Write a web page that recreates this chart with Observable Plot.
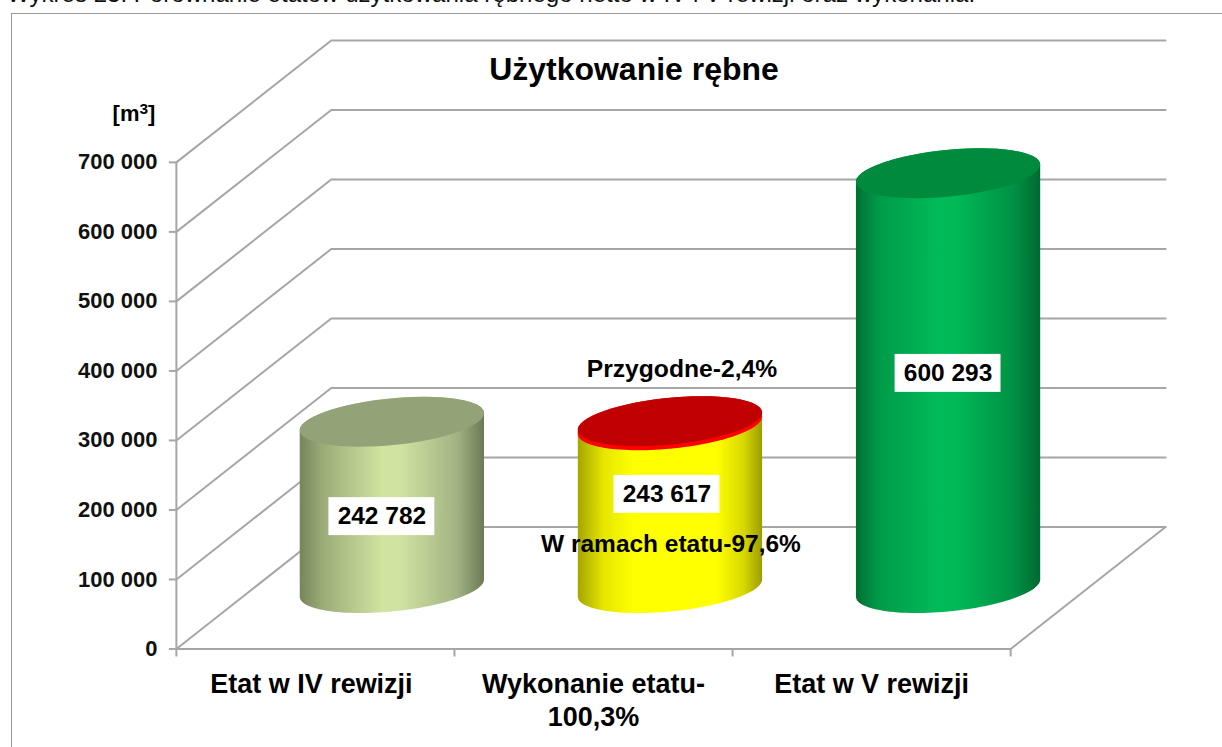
<!DOCTYPE html>
<html lang="pl">
<head>
<meta charset="utf-8">
<script src="https://cdn.jsdelivr.net/npm/d3@7"></script>
<script src="https://cdn.jsdelivr.net/npm/@observablehq/plot@0.6"></script>
<style>
html,body{margin:0;padding:0;background:#fff;overflow:hidden;width:1222px;height:747px;position:relative}
#cap{position:absolute;left:7px;top:-20px;font:24.07px/28px "Liberation Sans",Arial,sans-serif;color:#111;white-space:nowrap}
#chart{position:absolute;left:11px;top:13px;width:1211px;height:734px;box-sizing:border-box;border-top:1.5px solid #999;border-left:1.5px solid #999}
#chart svg{position:absolute;left:-1.5px;top:-1.5px;overflow:visible}
</style>
</head>
<body>
<div id="cap">Wykres 23. Porównanie etatów użytkowania rębnego netto w IV i V rewizji oraz wykonania.</div>
<div id="chart"></div>
<script>
const chartTitle = "Użytkowanie rębne";
const unitLabel = "[m3]";
const categories = ["Etat w IV rewizji", "Wykonanie etatu-\n100,3%", "Etat w V rewizji"];
const totals = [242782, 243617, 600293];
const totalLabels = ["242 782", "243 617", "600 293"];
const yTicks = [0, 100000, 200000, 300000, 400000, 500000, 600000, 700000];
const xTicks = [0, 1, 2, 3];
const segCategory = [0, 1, 1, 2];
const segBottom = [0, 0, 237770, 0];
const segTop = [242782, 237770, 243617, 600293];
const segBody = ["url(#gOlive)", "url(#gYellow)", "#ff0000", "url(#gGreen)"];
const segCap = ["#92a378", null, "#c00000", "#008a3e"];
const annotations = ["Przygodne-2,4%", "W ramach etatu-97,6%"];

// oblique projection of the 3D box into the (category, m³) plane
const pxPerCat = 278.3, pxPerUnit = 487 / 700000;
const depthX = 155 / pxPerCat, depthY = 175359;
const radiusX = 0.311, radiusD = 0.205;
const shiftX = -1 / pxPerCat, capDrop = 2.5 / pxPerUnit;
const t0 = Math.atan2(radiusD * depthX, radiusX);
const proj = (cat, level, t) => ({
  x: cat + 0.5 + shiftX + radiusX * Math.cos(t) + depthX * (0.5 + radiusD * Math.sin(t)),
  y: level + depthY * (0.5 + radiusD * Math.sin(t))
});
const steps = d3.range(0, 61).map(i => i / 60);
const drawn = v => v > 0 ? v - capDrop : 0;
const bodyPath = (cat, lo, hi) => [
  ...steps.map(s => proj(cat, drawn(lo), t0 - Math.PI * s)),
  ...steps.map(s => proj(cat, drawn(hi), t0 - Math.PI - Math.PI * s))
];
const capPath = (cat, level) => steps.map(s => proj(cat, drawn(level), 2 * Math.PI * s));

const grid = yTicks.flatMap(v => [
  {k: v, x: 0, y: v}, {k: v, x: depthX, y: v + depthY}, {k: v, x: 3 + depthX, y: v + depthY}
]);
const floorEdge = [{x: 0, y: 0}, {x: 3, y: 0}, {x: 3 + depthX, y: depthY}];
const bodies = segCategory.flatMap((c, i) => bodyPath(c, segBottom[i], segTop[i]).map(p => ({...p, i, fill: segBody[i]})));
const caps = segCategory.flatMap((c, i) => segCap[i] ? capPath(c, segTop[i]).map(p => ({...p, i, fill: segCap[i]})) : []);

const stops = {
  gOlive: [[0, "#75855a"], [0.12, "#9aab78"], [0.45, "#d1e4a0"], [0.55, "#cfe2a0"], [0.85, "#a3b484"], [1, "#6a7a55"]],
  gYellow: [[0, "#a5a500"], [0.14, "#e6e600"], [0.3, "#ffff00"], [0.75, "#ffff00"], [0.9, "#d8d800"], [1, "#9c9c00"]],
  gGreen: [[0, "#006f33"], [0.12, "#009a49"], [0.45, "#00bb59"], [0.55, "#00b856"], [0.85, "#009245"], [1, "#006a30"]]
};
const defs = () => {
  const ns = "http://www.w3.org/2000/svg";
  const g = document.createElementNS(ns, "defs");
  for (const [id, list] of Object.entries(stops)) {
    const lg = document.createElementNS(ns, "linearGradient");
    lg.setAttribute("id", id);
    for (const [o, c] of list) {
      const s = document.createElementNS(ns, "stop");
      s.setAttribute("offset", o);
      s.setAttribute("stop-color", c);
      lg.appendChild(s);
    }
    g.appendChild(lg);
  }
  return g;
};

const labelDX = [-11, -4, -1], labelDY = [13, -9, -6];
const labelBox = totals.map((v, i) => ({
  cx: i + 0.5 + depthX / 2 + labelDX[i] / pxPerCat,
  cy: v / 2 + depthY / 2 - labelDY[i] / pxPerUnit,
  text: totalLabels[i]
}));
const boxHalfX = 53 / pxPerCat, boxHalfY = 19 / pxPerUnit;
const spaced = d => d3.format(",")(d).replace(/,/g, " ");
const FONT = '"Liberation Sans", Arial, sans-serif';
const catDX = [-4, 0, 0];

const plot = Plot.plot({
  width: 1211, height: 734,
  marginLeft: 165, marginTop: 27, marginRight: 56, marginBottom: 98,
  style: {fontFamily: FONT, background: "transparent", color: "#000"},
  x: {type: "linear", domain: [0, 3 + depthX], axis: null},
  y: {type: "linear", domain: [0, 700000 + depthY], axis: null},
  marks: [
    defs,
    Plot.line(grid, {x: "x", y: "y", z: "k", stroke: "#a6a6a6", strokeWidth: 2, strokeLinejoin: "miter"}),
    Plot.line(floorEdge, {x: "x", y: "y", stroke: "#a6a6a6", strokeWidth: 2}),
    Plot.ruleX([0], {y1: 0, y2: 700000, stroke: "#a6a6a6", strokeWidth: 2}),
    Plot.ruleY(yTicks, {y: d => d, x1: 0, x2: 0, insetLeft: -7, stroke: "#a6a6a6", strokeWidth: 2}),
    Plot.ruleX(xTicks, {x: d => d, y1: 0, y2: 0, insetBottom: -8, stroke: "#a6a6a6", strokeWidth: 2}),
    Plot.text(yTicks, {x: 0, y: d => d, text: spaced, textAnchor: "end", dx: -19, fontSize: 22, fontWeight: "bold", fill: "#111"}),
    Plot.line(bodies, {x: "x", y: "y", z: "i", fill: "fill", stroke: "none"}),
    Plot.line(caps, {x: "x", y: "y", z: "i", fill: "fill", stroke: "none"}),
    Plot.rect(labelBox, {x1: d => d.cx - boxHalfX, x2: d => d.cx + boxHalfX, y1: d => d.cy - boxHalfY, y2: d => d.cy + boxHalfY, fill: "#fff"}),
    Plot.text(labelBox, {x: "cx", y: "cy", text: "text", fontSize: 24.5, fontWeight: "bold", fill: "#000"}),
    Plot.text(categories, {x: (d, i) => i + 0.5 + catDX[i] / pxPerCat, y: 0, text: d => d, lineAnchor: "top", dy: 20, lineHeight: 1.24, fontSize: 27, fontWeight: "bold", fill: "#000"}),
    Plot.text([annotations[0]], {x: 1.5 + depthX / 2, y: totals[1] + depthY, dx: 11, dy: 11, text: d => d, fontSize: 24.7, fontWeight: "bold", fill: "#000"}),
    Plot.text([annotations[1]], {x: 1.5 + depthX / 2, y: depthY, dx: 0, dy: 17, text: d => d, fontSize: 24.5, fontWeight: "bold", fill: "#000"}),
    Plot.text([chartTitle], {frameAnchor: "top", dx: -37, dy: 17, lineAnchor: "top", fontSize: 32, fontWeight: "bold", fill: "#000"}),
    Plot.text([unitLabel], {x: 0, y: 700000, textAnchor: "end", dx: -21, dy: -48, fontSize: 22, fontWeight: "bold", fill: "#000"})
  ]
});
// superscript in the unit label
for (const t of plot.querySelectorAll("text")) {
  if (t.textContent === unitLabel) {
    t.innerHTML = '[m<tspan dy="-7" font-size="15.5">3</tspan><tspan dy="7">]</tspan>';
  }
}
document.getElementById("chart").appendChild(plot);
</script>
</body>
</html>
